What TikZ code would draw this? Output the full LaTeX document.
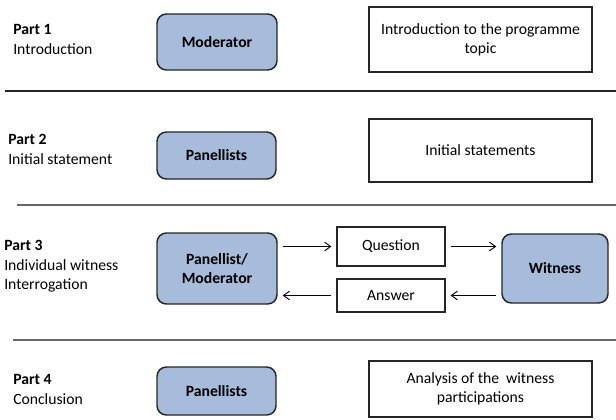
\documentclass[tikz,border=0pt]{standalone}
\usepackage{fontspec}
\setmainfont{Carlito}
\usetikzlibrary{arrows.meta}
\definecolor{actorblue}{RGB}{167,188,218}

\begin{document}
\begin{tikzpicture}[x=0.75pt, y=-0.75pt,
  every node/.style = {font=\fontsize{11.75}{14.5}\selectfont},
  actor/.style = {draw=black!85, line width=1.1pt, rounded corners=7pt,
    fill=actorblue, align=center, inner sep=0pt, font=\fontsize{11.75}{14.5}\selectfont\bfseries},
  task/.style = {draw=black!85, line width=0.9pt, align=center, inner sep=0pt},
  part/.style = {anchor=west, align=left, inner sep=0pt},
  divider/.style = {draw=black!60, line width=0.8pt},
  flow/.style = {-{Straight Barb[length=4.5pt,width=6.5pt]}, line width=0.7pt,
    shorten <=3.75pt, shorten >=3.75pt}]
  \useasboundingbox (0,0) rectangle (616,419);

  \node[part] (p1) at (13,39.5) {\textbf{Part 1}\\Introduction};
  \node[actor, minimum width=90pt, minimum height=42pt] (mod) at (217,42) {Moderator};
  \node[task, minimum width=167.25pt, minimum height=48.75pt] (intro) at (480.5,39.5)
    {Introduction to the programme\\topic};
  \coordinate (l1a) at (5,91);  \coordinate (l1b) at (616,91);
  \draw[divider, draw=black!85] (l1a) -- (l1b);

  \node[part] (p2) at (8,149.5) {\textbf{Part 2}\\Initial statement};
  \node[actor, minimum width=89.25pt, minimum height=35.25pt] (pan) at (216.5,155.5) {Panellists};
  \node[task, minimum width=167.25pt, minimum height=47.25pt] (init) at (480.5,150.5)
    {Initial statements};
  \coordinate (l2a) at (17,205);  \coordinate (l2b) at (616,205);
  \draw[divider] (l2a) -- (l2b);

  \node[part] (p3) at (4,266.5) {\textbf{Part 3}\\Individual witness\\Interrogation};
  \node[actor, minimum width=90pt, minimum height=53.25pt] (pm) at (217,268.5) {Panellist/\\Moderator};
  \node[task, minimum width=81pt, minimum height=29.25pt] (q) at (391,246.5) {Question};
  \node[task, minimum width=81pt, minimum height=24.75pt] (a) at (391,295.5) {Answer};
  \node[actor, minimum width=79.5pt, minimum height=51.75pt] (w) at (555,268.5) {Witness};
  \draw[flow] (pm.east |- q.west) -- (q.west);
  \draw[flow] (q.east) -- (w.west |- q.east);
  \draw[flow] (w.west |- a.east) -- (a.east);
  \draw[flow] (a.west) -- (pm.east |- a.west);
  \coordinate (l3a) at (13,340);  \coordinate (l3b) at (616,340);
  \draw[divider] (l3a) -- (l3b);

  \node[part] (p4) at (13,389.5) {\textbf{Part 4}\\Conclusion};
  \node[actor, minimum width=89.25pt, minimum height=36pt] (pan2) at (216.5,391) {Panellists};
  \node[task, minimum width=167.25pt, minimum height=42pt] (ana) at (480.5,389)
    {Analysis of the\ \ witness\\participations};
\end{tikzpicture}
\end{document}
